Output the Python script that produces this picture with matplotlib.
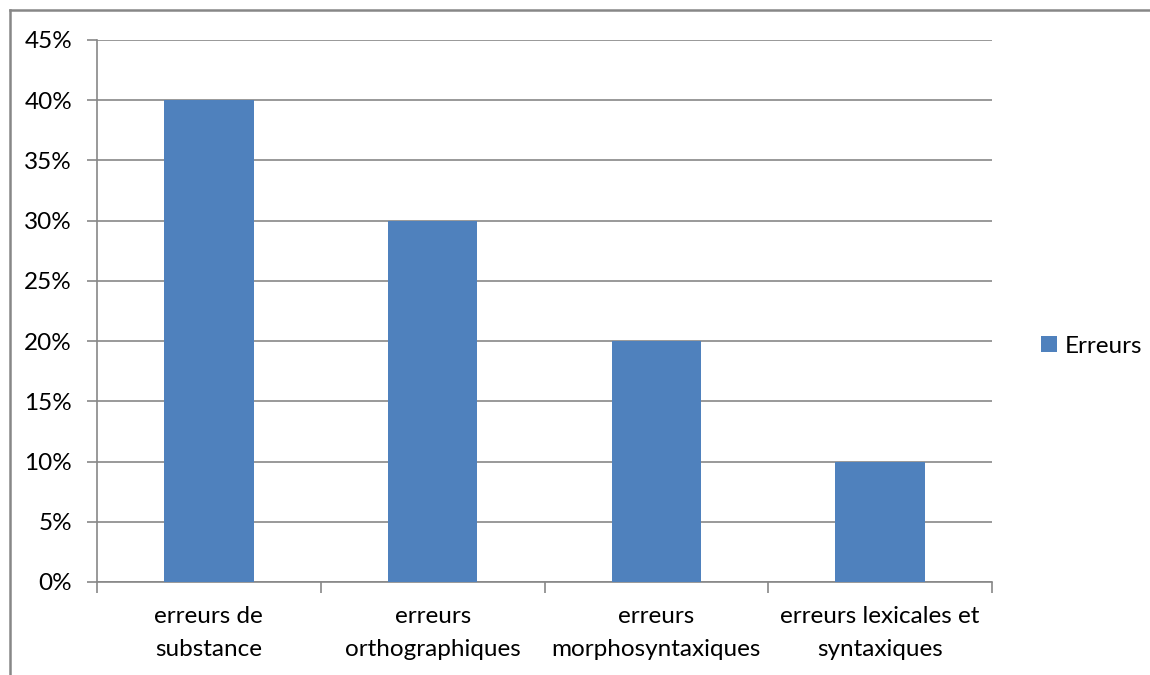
import matplotlib.pyplot as plt
from matplotlib.lines import Line2D
from matplotlib.ticker import FuncFormatter, MultipleLocator

categories = ["erreurs de\nsubstance", "erreurs\northographiques",
              "erreurs\nmorphosyntaxiques", "erreurs lexicales et\nsyntaxiques"]
valeurs = [0.40, 0.30, 0.20, 0.10]
serie = "Erreurs"

BLEU = "#4F81BD"
GRIS = "#878787"
TAILLE = 17.5
plt.rcParams["font.family"] = ["Lato", "DejaVu Sans"]

W, H = 1150, 675
fig = plt.figure(figsize=(W / 100, H / 100), dpi=100)
# zone de tracé en pixels : x 97..992, y 40..582
ax = fig.add_axes([97 / W, 1 - 582 / H, (992 - 97) / W, (582 - 40) / H])

x = range(len(categories))
ax.bar(x, valeurs, width=0.4, color=BLEU, label=serie, zorder=3)

ax.set_xlim(-0.5, len(categories) - 0.5)
ax.set_ylim(0, 0.45)
ax.yaxis.set_major_locator(MultipleLocator(0.05))
ax.yaxis.set_major_formatter(FuncFormatter(lambda v, _: f"{round(v * 100)}%"))
ax.grid(axis="y", color=GRIS, linewidth=1.2, zorder=0)

ax.set_xticks([i - 0.5 for i in range(len(categories) + 1)], [])
ax.set_xticks(list(x), categories, minor=True)
for lab in ax.get_xticklabels(minor=True):
    lab.set_linespacing(1.75)
ax.tick_params(axis="x", which="major", length=8, width=1.2, color=GRIS, direction="out")
ax.tick_params(axis="x", which="minor", length=0, pad=17, labelsize=TAILLE)
ax.tick_params(axis="y", length=7, width=1.2, color=GRIS, labelsize=TAILLE, pad=11)

for s in ("top", "right"):
    ax.spines[s].set_visible(False)
for s in ("left", "bottom"):
    ax.spines[s].set_color(GRIS)
    ax.spines[s].set_linewidth(1.2)

ax.legend(loc="center left", bbox_to_anchor=(1.03, 0.435), frameon=False,
          fontsize=TAILLE, handlelength=0.65, handleheight=0.65, handletextpad=0.35)

# cadre du graphique (seuls les bords haut et gauche sont visibles)
fig.add_artist(Line2D([10 / W, 10 / W], [0, 1 - 10 / H], color=GRIS, lw=1.8,
                      transform=fig.transFigure))
fig.add_artist(Line2D([10 / W, 1], [1 - 10 / H, 1 - 10 / H], color=GRIS, lw=1.8,
                      transform=fig.transFigure))

fig.savefig("out.png", dpi=100)
